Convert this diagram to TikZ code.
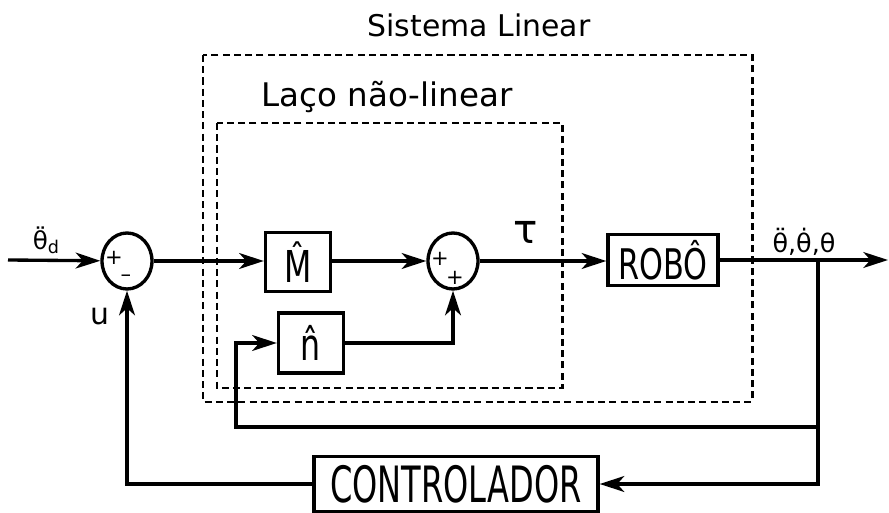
\documentclass[tikz,border=0pt]{standalone}
\usepackage{fontspec}
\setmainfont{DejaVu Sans}
\newfontfamily\boxfont[FakeStretch=0.72]{DejaVu Sans}
\newfontfamily\ctrlfont[FakeStretch=0.64]{DejaVu Sans}
\usepackage{tikz}
\usetikzlibrary{arrows.meta,positioning,calc,shapes.geometric}

\begin{document}
\begin{tikzpicture}[
    x=0.02cm, y=-0.02cm,
    blk/.style={draw,line width=1.9pt,inner sep=0pt,align=center},
    sumnode/.style={draw,line width=1.9pt,ellipse,minimum width=1cm,minimum height=1.12cm,inner sep=0pt},
    frame/.style={line width=1.7pt,dash pattern=on 4pt off 2.4pt},
    sig/.style={line width=1.9pt},
    sign/.style={font=\fontsize{12}{12}\selectfont,inner sep=0pt},
    >={Stealth[length=14pt,width=9pt,inset=4pt]}
]
\useasboundingbox (0,0) rectangle (889,513);

% frames
\draw[frame] (203,55) rectangle (752,402);
\draw[frame] (217,123) rectangle (562,388);
\node[anchor=base,font=\fontsize{17}{17}\selectfont] (tsis) at (479,37) {Sistema Linear};
\node[anchor=base,font=\fontsize{18.5}{18.5}\selectfont] (tlaco) at (387,107) {Laço não-linear};

% blocks
\coordinate (in) at (8,260);
\node[sumnode] (s1) at (127,261) {};
\node[blk,minimum width=1.3cm,minimum height=1.18cm,font=\boxfont\fontsize{25}{25}\selectfont] (mh) at (298,262) {M̂};
\node[sumnode] (s2) at (453,261) {};
\node[blk,minimum width=2.2cm,minimum height=1.02cm,font=\boxfont\fontsize{24}{24}\selectfont] (robo) at (663,260) {ROBÔ};
\node[blk,minimum width=1.3cm,minimum height=1.2cm,font=\boxfont\fontsize{25}{25}\selectfont] (nh) at (311,343) {n̂};
\node[blk,minimum width=5.68cm,minimum height=1.1cm,font=\ctrlfont\fontsize{28.5}{28.5}\selectfont] (ctrl) at (456,484) {CONTROLADOR};
\coordinate (out) at (888,260);
\coordinate (br) at (818,260);
\coordinate (fbn) at (236,427);

% signs
\node[sign] (p1) at (114,258) {+};
\node[sign] (m1) at (126,278) {\textendash};
\node[sign] (p2) at (440,259) {+};
\node[sign] (p3) at (455,278) {+};

% labels
\node[font=\fontsize{14}{14}\selectfont,inner sep=0pt] (lthd) at (46,240) {θ̈\raisebox{-2pt}{\fontsize{10}{10}\selectfont d}};
\node[font=\fontsize{23}{23}\selectfont,inner sep=0pt] (ltau) at (526,232) {τ};
\node[font=\fontsize{17}{17}\selectfont,inner sep=0pt] (lu) at (100,316) {u};
\node[font=\fontsize{14.5}{14.5}\selectfont,inner sep=0pt] (lout) at (804,242) {θ̈,θ̇,θ};

% connections
\draw[sig,->] (in) -- (s1);
\draw[sig,->] (s1) -- (mh.west |- s1);
\draw[sig,->] (mh.east |- s1) -- (s2);
\draw[sig,->] (s2) -- (robo.west |- s2);
\draw[sig,->] (robo.east |- out) -- (out);
\draw[sig,->] (nh.east) -| (s2.south);
\draw[sig,->] (br) |- (fbn) |- (nh.west);
\draw[sig,->] (br) |- (ctrl.east);
\draw[sig,->] (ctrl.west) -| (s1.south);
\end{tikzpicture}
\end{document}
